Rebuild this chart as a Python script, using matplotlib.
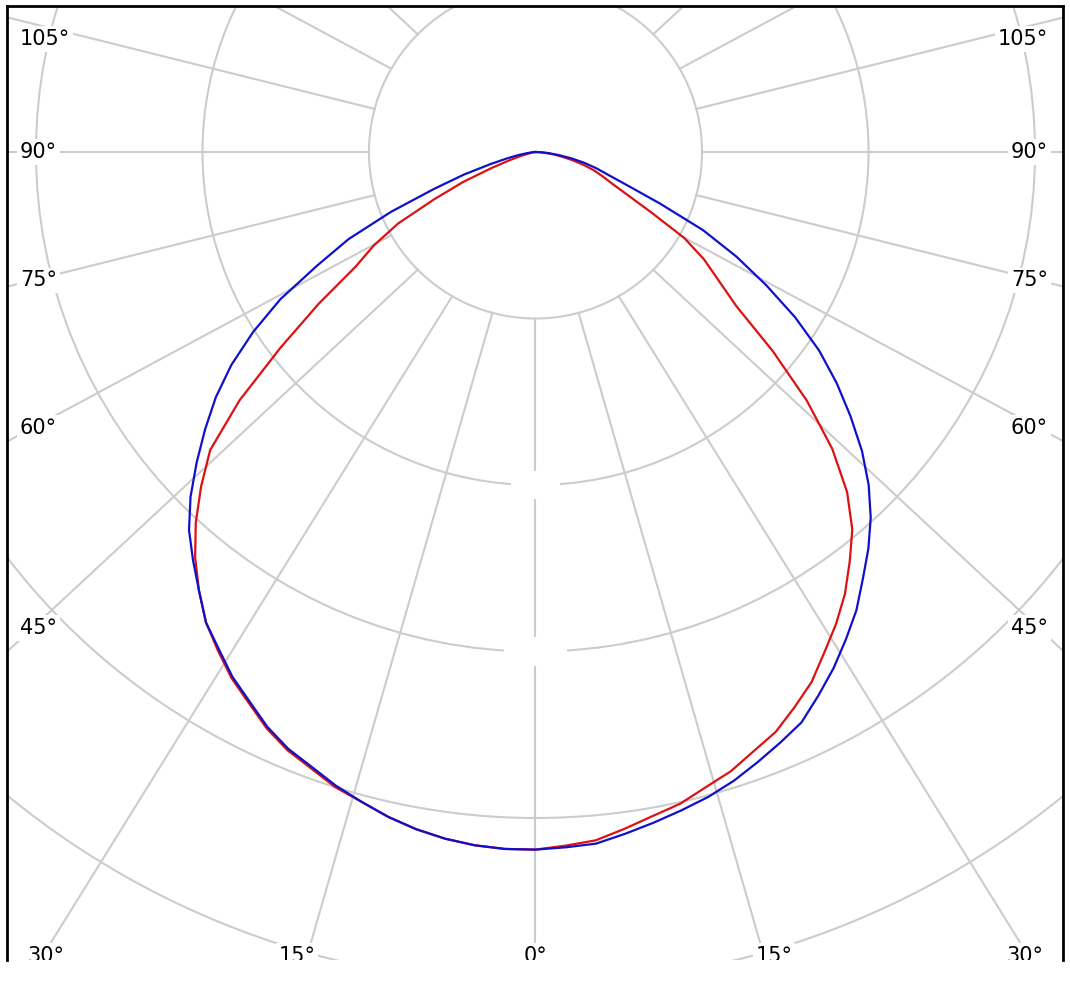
import numpy as np
import matplotlib.pyplot as plt
from matplotlib.patches import Circle, Rectangle

# gamma angle measured from nadir (0 = straight down), 2.5 deg steps
gamma = [0, 2.5, 5, 7.5, 10, 12.5, 15, 17.5, 20, 22.5, 25, 27.5, 30, 32.5, 35, 37.5,
         40, 42.5, 45, 47.5, 50, 52.5, 55, 57.5, 60, 62.5, 65, 67.5, 70, 72.5, 75,
         77.5, 80, 82.5, 85, 87.5, 90]

# red curve: C0 (right half) and C180 (left half)
c0_red = [419, 417, 415, 410, 405, 401, 395, 390, 383, 377, 368, 359, 347, 336, 324, 310,
          296, 277, 252, 221, 186, 152, 134, 120, 103, 78, 61, 50, 43, 37, 30,
          23, 16, 11, 6, 2, 0]
c180_red = [419, 419, 418, 416, 413, 409, 404, 400, 394, 389, 382, 373, 365, 355, 345, 332,
            318, 302, 284, 265, 232, 193, 159, 128, 112, 93, 67, 47, 28, 16, 9,
            4, 2, 1, 0, 0, 0]

# blue curve: C90 (right half) and C270 (left half)
c90_blue = [419, 418, 417, 413, 409, 405, 401, 396, 390, 384, 378, 368, 358, 347, 336, 323,
            311, 298, 283, 266, 247, 228, 208, 185, 160, 136, 111, 81, 59, 46, 38,
            30, 22, 14, 8, 3, 0]
c270_blue = [419, 419, 418, 416, 413, 409, 404, 399, 393, 388, 381, 372, 364, 354, 345, 332,
             320, 308, 293, 276, 259, 242, 223, 201, 177, 148, 124, 94, 65, 45, 28,
             17, 10, 5, 2, 1, 0]

ring_values = [100, 200, 300, 400, 500, 600]
side_labels = [45, 60, 75, 90, 105]
bottom_labels = [-30, -15, 0, 15, 30]

GRID = '#cccccc'
RED = '#dd1111'
BLUE = '#1010cc'
SKEW = 0.93  # radial lines lean slightly outward like in the original

# data limits chosen so one ring step = 166.5 px
XMIN, XMAX = -317.4, 316.8
YMIN, YMAX = -485.3, 87.7


def half_curve(vals, sign):
    g = np.radians(gamma)
    r = np.array(vals, dtype=float)
    return sign * r * np.sin(g), -r * np.cos(g)


def full_curve(left_vals, right_vals):
    xl, yl = half_curve(left_vals, -1)
    xr, yr = half_curve(right_vals, 1)
    return np.concatenate([xl[::-1], xr[1:]]), np.concatenate([yl[::-1], yr[1:]])


def ray(theta):
    t = np.radians(theta)
    start = np.array([ring_values[0] * np.sin(t), -ring_values[0] * np.cos(t)])
    d = np.array([np.sin(t), -SKEW * np.cos(t)])
    return start, d / np.hypot(*d)


fig = plt.figure(figsize=(10.7, 10), dpi=100)
ax = fig.add_axes([7 / 1070, 40 / 1000, 1056 / 1070, 954 / 1000])
ax.set_xlim(XMIN, XMAX)
ax.set_ylim(YMIN, YMAX)
ax.set_xticks([])
ax.set_yticks([])
for side in ['left', 'top', 'right']:
    ax.spines[side].set_linewidth(2)
    ax.spines[side].set_color('black')
ax.spines['bottom'].set_visible(False)

# rings
for rv in ring_values:
    ax.add_patch(Circle((0, 0), rv, fill=False, ec=GRID, lw=1.5, zorder=1))

# radial lines every 15 deg, starting at the first ring
for a in range(-180, 181, 15):
    s, d = ray(a)
    e = s + d * 1200
    ax.plot([s[0], e[0]], [s[1], e[1]], color=GRID, lw=1.5, zorder=1)

# blank boxes on the 0 deg line (hidden ring value labels)
for rv, w in [(200, 29.4), (300, 37.8)]:
    ax.add_patch(Rectangle((-w / 2, -rv - 8.5), w, 17, fc='white', ec='none', zorder=2))

box = dict(fc='white', ec='none', pad=2)
fs = 15

# side labels
for a in side_labels:
    for sign in (-1, 1):
        s, d = ray(sign * a)
        t = (sign * 302 - s[0]) / d[0]
        y = min(s[1] + t * d[1], 68)
        if sign < 0:
            ax.text(-309.6, y, f'{a}°', ha='left', va='center', fontsize=fs,
                    bbox=box, zorder=3)
        else:
            ax.text(307.8, y, f'{a}°', ha='right', va='center', fontsize=fs,
                    bbox=box, zorder=3)

# bottom labels (cut by the frame)
for a in bottom_labels:
    if a == 0:
        x = 0
    else:
        s, d = ray(a)
        t = (-503.3 - s[1]) / d[1]
        x = np.clip(s[0] + t * d[0], -294, 294)
    ax.text(x, -483, f'{abs(a)}°', ha='center', va='center', fontsize=fs,
            bbox=box, zorder=3, clip_on=True)

# curves
xr, yr = full_curve(c180_red, c0_red)
ax.plot(xr, yr, color=RED, lw=1.6, zorder=4)
xb, yb = full_curve(c270_blue, c90_blue)
ax.plot(xb, yb, color=BLUE, lw=1.6, zorder=5)

fig.savefig('out.png', dpi=100)
